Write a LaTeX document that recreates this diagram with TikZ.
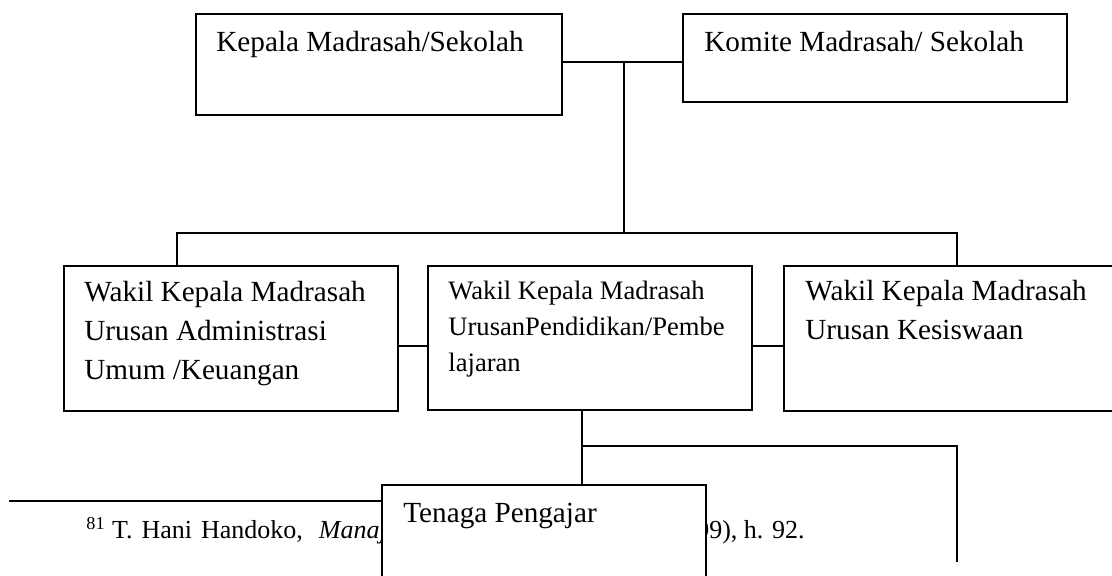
\documentclass[tikz,border=0pt]{standalone}
\usepackage{fontspec}
\setmainfont{Liberation Serif}
\begin{document}
\begin{tikzpicture}[x=0.5pt,y=-0.5pt,
  box/.style={draw, line width=0.9pt, inner sep=0pt, anchor=north west, fill=white},
  wire/.style={line width=0.9pt},
  txt/.style={anchor=base west, inner sep=0pt},
  big/.style={font=\fontsize{14.6pt}{19.5pt}\selectfont},
  mid/.style={font=\fontsize{13.3pt}{18pt}\selectfont},
  fnote/.style={font=\fontsize{13pt}{15pt}\selectfont}]
\useasboundingbox (0,0) rectangle (1112,576);

% footnote (partly hidden by the box below)
\coordinate (fn) at (9,501);
\node[txt, fnote] (fnl) at (86,538) {\textsuperscript{81} T.\hspace{4.5pt}Hani\hspace{4.5pt}Handoko,\hspace{8pt}\textit{Manaj}};
\node[fnote, anchor=base east, inner sep=0pt] (fnr) at (805,538) {99), h. 92.};

% boxes
\node[box, minimum width=183pt, minimum height=50.5pt] (kepala) at (195,13) {};
\node[box, minimum width=192pt, minimum height=44pt] (komite) at (682,13) {};
\node[box, minimum width=167pt, minimum height=72.5pt] (admin) at (63,265) {};
\node[box, minimum width=162pt, minimum height=72pt] (pend) at (427,265) {};
\node[box, minimum width=175pt, minimum height=72.5pt] (kesis) at (783,265) {};

% texts
\node[txt, big] (tkepala) at (216,52) {Kepala Madrasah/Sekolah};
\node[txt, big] (tkomite) at (704,52) {Komite Madrasah/ Sekolah};
\node[txt, big] (tadmin) at (84,302) {\begin{tabular}[t]{@{}l@{}}Wakil Kepala Madrasah\\ Urusan Administrasi\\ Umum /Keuangan\end{tabular}};
\node[txt, mid] (tpend) at (448,300) {\begin{tabular}[t]{@{}l@{}}Wakil Kepala Madrasah\\ UrusanPendidikan/Pembe\\ lajaran\end{tabular}};
\node[txt, big] (tkesis) at (805,301) {\begin{tabular}[t]{@{}l@{}}Wakil Kepala Madrasah\\ Urusan Kesiswaan\end{tabular}};

% connectors
\coordinate (jtop) at (624,62);
\coordinate (bus) at (624,233);
\coordinate (busL) at (177,233);
\coordinate (busR) at (957,233);
\coordinate (mrow) at (0,346);
\coordinate (lowv) at (582,446);
\coordinate (lowR) at (957,446);
\coordinate (lowEnd) at (957,562);

\draw[wire] (jtop -| kepala.east) -- (jtop -| komite.west);
\draw[wire] (jtop) -- (bus);
\draw[wire] (busL |- admin.north) -- (busL) -- (busR) -- (busR |- kesis.north);
\draw[wire] (mrow -| admin.east) -- (mrow -| pend.west);
\draw[wire] (mrow -| pend.east) -- (mrow -| kesis.west);
\draw[wire] (lowv |- pend.south) -- (lowv) -- (lowR) -- (lowEnd);

% lower box covering footnote
\node[box, minimum width=162pt, minimum height=60pt] (tenaga) at (381,484) {};
\draw[wire] (lowv) -- (lowv |- tenaga.north);
\draw[wire] (fn) -- (fn -| tenaga.west);
\node[txt, big] (ttenaga) at (403,522) {Tenaga Pengajar};
\end{tikzpicture}
\end{document}
